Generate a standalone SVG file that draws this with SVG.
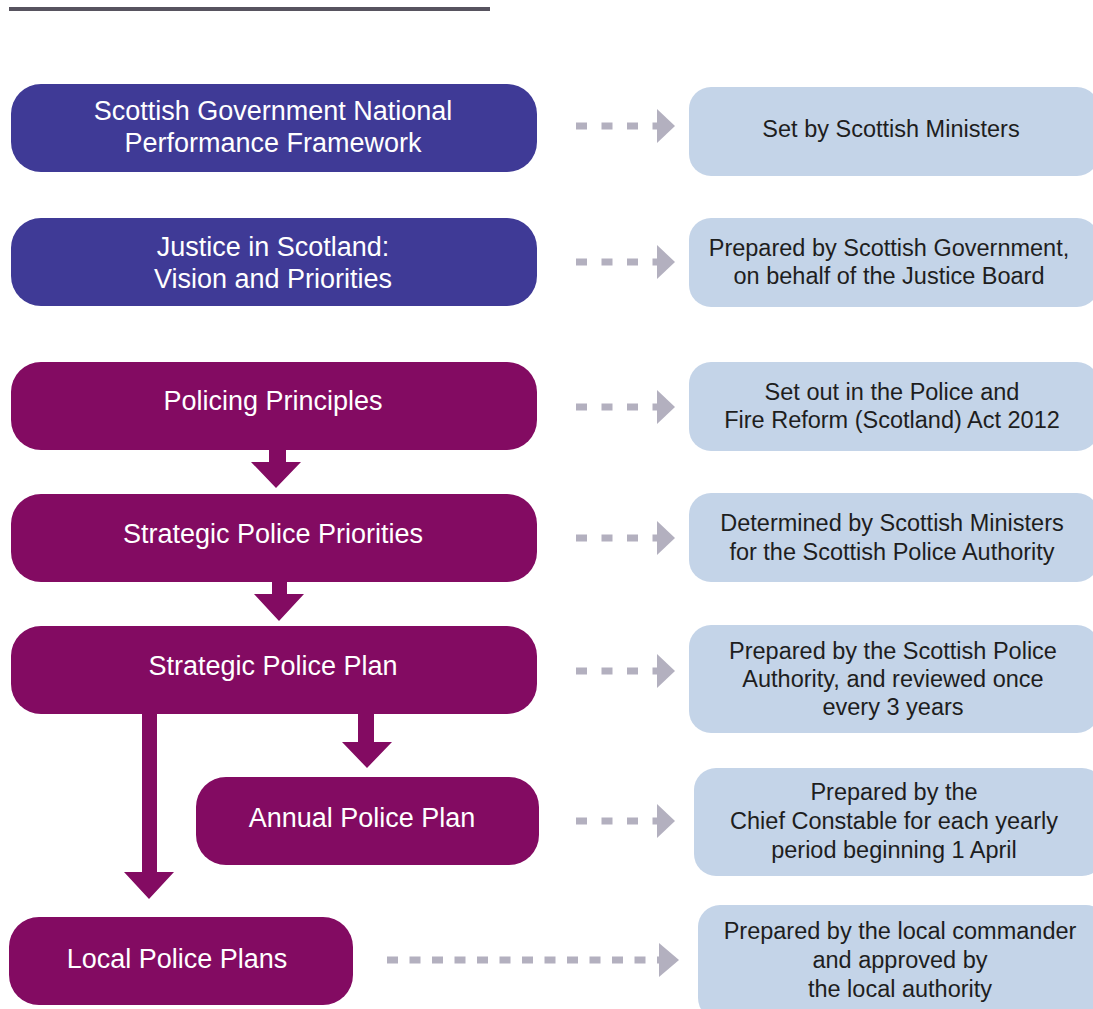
<svg xmlns="http://www.w3.org/2000/svg" width="1093" height="1009" viewBox="0 0 1093 1009">
<defs>
<style>
.blue{fill:#3f3a96}
.purple{fill:#830b62}
.info{fill:#c4d4e8}
.lt{font-family:"Liberation Sans",Arial,sans-serif;font-size:27px;fill:#ffffff;text-anchor:middle}
.rt{font-family:"Liberation Sans",Arial,sans-serif;font-size:23.5px;fill:#1e1e1e;text-anchor:middle}
.dash{stroke:#b3b0bf;stroke-width:7;fill:none;stroke-dasharray:11 14.5}
.dash2{stroke:#b3b0bf;stroke-width:7;fill:none;stroke-dasharray:11 11.5}
.head{fill:#b3b0bf}
.flow{fill:#830b62}
</style>
</defs>
<rect x="9" y="7" width="481" height="4" fill="#57535f"/>

<g id="connectors">
  <!-- solid flow arrows -->
  <polygon class="flow" points="269,449 286,449 286,462 301,462 276,488 251,462 269,462"/>
  <polygon class="flow" points="272,581 287,581 287,594 304,594 279,621 254,594 272,594"/>
  <polygon class="flow" points="358,713 374,713 374,742 392,742 367,768 342,742 358,742"/>
  <polygon class="flow" points="142,713 157,713 157,872 174,872 149,899 124,872 142,872"/>
  <!-- dashed arrows -->
  <line class="dash" x1="576" y1="126" x2="657" y2="126"/>
  <polygon class="head" points="657,109 675,126 657,143"/>
  <line class="dash" x1="576" y1="262" x2="657" y2="262"/>
  <polygon class="head" points="657,245 675,262 657,279"/>
  <line class="dash" x1="576" y1="407" x2="657" y2="407"/>
  <polygon class="head" points="657,390 675,407 657,424"/>
  <line class="dash" x1="576" y1="538" x2="657" y2="538"/>
  <polygon class="head" points="657,521 675,538 657,555"/>
  <line class="dash" x1="576" y1="671" x2="657" y2="671"/>
  <polygon class="head" points="657,654 675,671 657,688"/>
  <line class="dash" x1="576" y1="821" x2="657" y2="821"/>
  <polygon class="head" points="657,804 675,821 657,838"/>
  <line class="dash2" x1="387" y1="960" x2="659" y2="960"/>
  <polygon class="head" points="659,943 679,960 659,977"/>
</g>

<g id="node-npf">
  <rect class="blue" x="11" y="84" width="526" height="88" rx="30"/>
  <text class="lt" x="273" y="120">Scottish Government National</text>
  <text class="lt" x="273" y="152">Performance Framework</text>
</g>
<g id="node-justice">
  <rect class="blue" x="11" y="218" width="526" height="88" rx="30"/>
  <text class="lt" x="273" y="256">Justice in Scotland:</text>
  <text class="lt" x="273" y="288">Vision and Priorities</text>
</g>
<g id="node-principles">
  <rect class="purple" x="11" y="362" width="526" height="88" rx="30"/>
  <text class="lt" x="273" y="410">Policing Principles</text>
</g>
<g id="node-priorities">
  <rect class="purple" x="11" y="494" width="526" height="88" rx="30"/>
  <text class="lt" x="273" y="543">Strategic Police Priorities</text>
</g>
<g id="node-strategic-plan">
  <rect class="purple" x="11" y="626" width="526" height="88" rx="30"/>
  <text class="lt" x="273" y="675">Strategic Police Plan</text>
</g>
<g id="node-annual-plan">
  <rect class="purple" x="196" y="777" width="343" height="88" rx="30"/>
  <text class="lt" x="362" y="827">Annual Police Plan</text>
</g>
<g id="node-local-plans">
  <rect class="purple" x="9" y="917" width="344" height="88" rx="30"/>
  <text class="lt" x="177" y="968">Local Police Plans</text>
</g>

<g id="info-1">
  <rect class="info" x="689" y="87" width="410" height="89" rx="22"/>
  <text class="rt" x="891" y="137">Set by Scottish Ministers</text>
</g>
<g id="info-2">
  <rect class="info" x="689" y="218" width="410" height="89" rx="22"/>
  <text class="rt" x="889" y="256">Prepared by Scottish Government,</text>
  <text class="rt" x="889" y="284">on behalf of the Justice Board</text>
</g>
<g id="info-3">
  <rect class="info" x="689" y="362" width="410" height="89" rx="22"/>
  <text class="rt" x="892" y="400">Set out in the Police and</text>
  <text class="rt" x="892" y="428">Fire Reform (Scotland) Act 2012</text>
</g>
<g id="info-4">
  <rect class="info" x="689" y="493" width="410" height="89" rx="22"/>
  <text class="rt" x="892" y="531">Determined by Scottish Ministers</text>
  <text class="rt" x="892" y="560">for the Scottish Police Authority</text>
</g>
<g id="info-5">
  <rect class="info" x="689" y="625" width="410" height="108" rx="22"/>
  <text class="rt" x="893" y="659">Prepared by the Scottish Police</text>
  <text class="rt" x="893" y="687">Authority, and reviewed once</text>
  <text class="rt" x="893" y="715">every 3 years</text>
</g>
<g id="info-6">
  <rect class="info" x="694" y="768" width="410" height="108" rx="22"/>
  <text class="rt" x="894" y="800">Prepared by the</text>
  <text class="rt" x="894" y="829">Chief Constable for each yearly</text>
  <text class="rt" x="894" y="858">period beginning 1 April</text>
</g>
<g id="info-7">
  <rect class="info" x="698" y="905" width="410" height="115" rx="22"/>
  <text class="rt" x="900" y="939">Prepared by the local commander</text>
  <text class="rt" x="900" y="968">and approved by</text>
  <text class="rt" x="900" y="997">the local authority</text>
</g>
</svg>
